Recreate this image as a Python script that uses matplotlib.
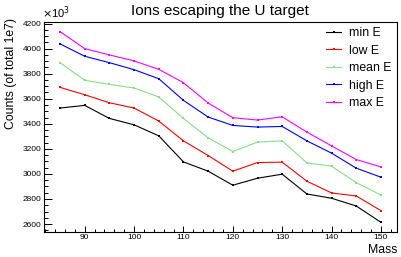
import matplotlib
matplotlib.use("Agg")
import matplotlib.pyplot as plt
from matplotlib.ticker import MultipleLocator

plt.rcParams['font.family'] = ['Liberation Sans', 'DejaVu Sans']

# counts in units of 10^3 (of total 1e7)
mass = [85, 90, 95, 100, 105, 110, 115, 120, 125, 130, 135, 140, 145, 150]
min_e = [3526, 3547, 3443, 3392, 3304, 3096, 3022, 2910, 2966, 2998, 2840, 2806, 2744, 2614]
low_e = [3691, 3632, 3568, 3526, 3422, 3264, 3147, 3022, 3091, 3094, 2942, 2848, 2824, 2707]
mean_e = [3888, 3747, 3715, 3686, 3614, 3443, 3288, 3179, 3254, 3264, 3088, 3062, 2931, 2832]
high_e = [4038, 3939, 3888, 3832, 3760, 3587, 3454, 3387, 3374, 3379, 3264, 3166, 3046, 2974]
max_e = [4136, 4000, 3950, 3902, 3835, 3728, 3566, 3449, 3430, 3456, 3334, 3224, 3115, 3056]

series = [min_e, low_e, mean_e, high_e, max_e]
labels = ["min E", "low E", "mean E", "high E", "max E"]
colors = ["black", "#ff0000", "#85e085", "#0000ff", "#ff00ff"]

fig = plt.figure(figsize=(4.01, 2.57), dpi=100)
ax = fig.add_axes([44 / 401, 1 - 231.7 / 257, 353 / 401, 210 / 257])

for vals, lab, col in zip(series, labels, colors):
    ax.plot(mass, vals, color=col, lw=0.8, marker='s', markersize=1.6,
            markeredgewidth=0, label=lab)

ax.set_xlim(81.75, 153.25)
ax.set_ylim(2539, 4215)

ax.xaxis.set_major_locator(MultipleLocator(10))
ax.xaxis.set_minor_locator(MultipleLocator(2))
ax.yaxis.set_major_locator(MultipleLocator(200))
ax.yaxis.set_minor_locator(MultipleLocator(50))

ax.tick_params(axis='both', which='both', direction='in', labelsize=6, top=False, right=False, width=0.7)
ax.tick_params(axis='y', which='major', length=5.8, pad=2)
ax.tick_params(axis='y', which='minor', length=3.2)
ax.tick_params(axis='x', which='major', length=4.1, pad=2)
ax.tick_params(axis='x', which='minor', length=2.2)
for sp in ax.spines.values():
    sp.set_linewidth(0.8)

fig.text(220 / 401, 1 - 14.5 / 257, "Ions escaping the U target", ha='center', va='baseline', fontsize=11)
fig.text(11 / 401, 1 - 18 / 257, "Counts (of total 1e7)", rotation=90, ha='center', va='top', fontsize=8.8)
fig.text(397 / 401, 1 - 253 / 257, "Mass", ha='right', va='baseline', fontsize=8.8)
fig.text(42 / 401, 1 - 17.5 / 257, r"$\times$10$^{3}$", ha='left', va='baseline', fontsize=8)

ax.legend(loc='upper left', bbox_to_anchor=(326 / 401, 1 - 27 / 257), bbox_transform=fig.transFigure,
          frameon=False, fontsize=8.8, handlelength=1.25, handletextpad=0.6, labelspacing=0.45,
          borderpad=0, borderaxespad=0, markerscale=1.0)

fig.savefig("out.png", dpi=100)
